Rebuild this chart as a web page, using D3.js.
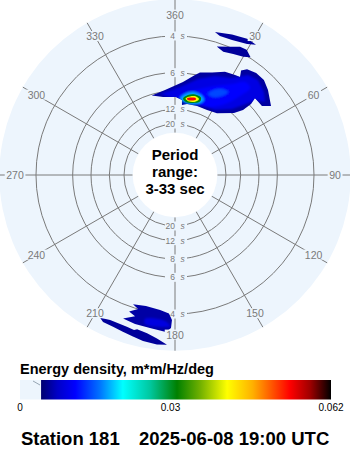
<!DOCTYPE html>
<html><head><meta charset="utf-8">
<script src="https://cdn.jsdelivr.net/npm/d3@7"></script>
<style>body{margin:0;background:#fff}svg{display:block}</style>
</head><body>
<svg id="c" width="350" height="450"></svg>
<script>
// ---------- data ----------
const periodRange = [3, 33];                 // seconds (outer edge, inner edge)
const periodRings = [4, 6, 8, 12, 20];       // labelled period rings (s)
const periodRingLabels = ["4", "6", "8", "12", "20"];
const directions = [0, 30, 60, 90, 120, 150, 180, 210, 240, 270, 300, 330];
const directionLabels = ["360", "30", "60", "90", "120", "150", "180", "210", "240", "270", "300", "330"];
const centerLines = ["Period", "range:", "3-33 sec"];
const cbTitle = "Energy density, m*m/Hz/deg";
const cbDomain = [0, 0.062];
const cbTicks = [0, 0.03, 0.062];
const cbTickLabels = ["0", "0.03", "0.062"];
const cbStopValues = [0.0042, 0.0075, 0.011, 0.0158, 0.0205, 0.0259, 0.0313, 0.0359, 0.0413, 0.0464, 0.0538, 0.0578, 0.062];
const cbStopColors = ["#000070", "#0000c8", "#0000ff", "#0070ff", "#00ffff", "#00c8a0", "#008000", "#70b000", "#ffff00", "#ffb000", "#ff0000", "#a00000", "#000000"];
const stationTitle = "Station 181";
const dateTitle = "2025-06-08 19:00 UTC";

// energy contours: [direction (deg), period (s)]
const mainOuter = [[343.7,8.18],[353.3,7.78],[4.9,6.84],[11.3,6.03],[13.7,5.75],[19.9,5.5],[25.8,5.13],[31.0,5.02],[33.6,4.97],
  [32.3,4.65],[34.3,4.45],[38.5,4.34],[43.1,4.35],[47.6,4.54],[54.3,4.93],[51.6,5.37],[46.1,5.37],[47.0,5.87],[46.3,6.76],
  [43.6,7.78],[34.2,9.65],[26.2,10.1],[17.7,10.1],[9.6,10.2],[5.7,10.65],[5.3,9.5],[0.7,8.98],[351.3,8.82]];
const mainLevel2 = [[349.5,8.24],[3.3,7.44],[13.5,6.31],[22.0,5.66],[30.4,5.27],[36.1,4.64],[41.1,4.53],[47.0,4.75],[50.9,5.06],
  [47.2,5.41],[45.0,6.16],[40.8,7.56],[31.6,9.3],[18.0,9.65],[5.3,9.5],[353.5,8.71]];
const mainLevel3 = [[2.2,8.78],[13.2,7.55],[24.2,6.41],[32.1,5.61],[37.0,5.03],[40.8,5.12],[39.4,6.0],[35.2,7.61],[27.2,9.26],[15.7,9.82],[5.4,9.71]];
const mainLevel4 = [[22.2,7.52],[24.6,6.82],[28.7,6.38],[32.6,6.33],[30.8,7.0],[26.0,7.61]];
const peakHalo = [[3.8,9.33],[7.0,8.36],[12.2,7.87],[18.0,7.99],[21.1,8.56],[18.0,9.65],[10.4,10.18]];
const peakGreen = [[6.0,9.18],[9.2,8.46],[14.0,8.16],[18.5,8.35],[18.8,9.05],[14.0,9.73],[8.6,9.82]];
const peakYellow = [[7.8,9.13],[10.8,8.64],[15.0,8.41],[17.5,8.68],[15.9,9.28],[10.8,9.61]];
const peakRed = [[8.9,9.09],[11.7,8.78],[14.9,8.68],[15.5,8.91],[12.9,9.28],[9.8,9.34]];
const swellA = [[15.6,3.68],[22.1,3.59],[28.2,3.51],[31.9,3.54],[28.8,3.65],[22.9,3.745],[17.9,3.76]];
const swellB = [[18.0,4.15],[23.2,3.98],[26.9,3.83],[29.8,3.82],[32.7,3.97],[30.0,4.09],[25.7,4.18],[21.4,4.26]];
const southC = [[198.0,4.12],[192.5,4.18],[186.3,4.12],[182.5,4.01],[181.2,3.79],[181.5,3.55],[183.3,3.43],[189.3,3.49],
  [195.0,3.51],[199.9,3.56],[195.8,3.74],[198.6,3.83],[195.4,4.0]];
const southCInner = [[191.8,3.73],[183.9,3.75],[181.9,3.6],[185.6,3.56],[191.4,3.58]];
const southD = [[207.7,3.33],[204.1,3.39],[197.6,3.38],[194.8,3.35],[193.8,3.39],[190.0,3.34],[186.3,3.25],[182.7,3.12],
  [186.1,3.11],[190.9,3.14],[194.6,3.19],[198.4,3.23],[202.2,3.26],[206.1,3.27]];

const outerContours = [
  {pts: mainOuter, value: 0.0060}, {pts: swellA, value: 0.0058}, {pts: swellB, value: 0.0058},
  {pts: southC, value: 0.0062}, {pts: southD, value: 0.0058}];
const softContours = [
  {pts: mainLevel2, value: 0.0092, smooth: false}, {pts: southCInner, value: 0.0090, smooth: true},
  {pts: mainLevel3, value: 0.0112, smooth: true}, {pts: mainLevel4, value: 0.0140, smooth: true},
  {pts: peakHalo, value: 0.0175, smooth: true}];
const peakContours = [
  {pts: peakGreen, value: 0.031}, {pts: peakYellow, value: 0.041}, {pts: peakRed, value: 0.054}];

// ---------- drawing ----------
const svg = d3.select("#c");
const cx = 175, cy = 175;
const diskColor = "#edf5fd", gridColor = "#7a7a7a";
const font = "Liberation Sans, Arial, sans-serif";
const freqScale = d3.scaleLinear().domain([1 / periodRange[1], 1 / periodRange[0]]).range([42.3, 175.7]);
const rOf = p => freqScale(1 / p);
const angScale = d3.scaleLinear().domain([0, 360]).range([0, 2 * Math.PI]);
const color = d3.scaleLinear().domain(cbStopValues).range(cbStopColors).clamp(true);

const defs = svg.append("defs");
defs.append("filter").attr("id", "blur").attr("x", "-20%").attr("y", "-20%").attr("width", "140%").attr("height", "140%")
  .append("feGaussianBlur").attr("stdDeviation", 1.3);
defs.append("filter").attr("id", "blurS").attr("x", "-30%").attr("y", "-30%").attr("width", "160%").attr("height", "160%")
  .append("feGaussianBlur").attr("stdDeviation", 0.6);

const g = svg.append("g").attr("transform", `translate(${cx},${cy})`);
const rMax = freqScale.range()[1], rMin = freqScale.range()[0];
g.append("circle").attr("r", rMax).attr("fill", diskColor);

// rings
g.selectAll("circle.ring").data(periodRings).join("circle").attr("class", "ring")
  .attr("r", d => rOf(d)).attr("fill", "none").attr("stroke", gridColor).attr("stroke-width", 1);
// radial lines
g.selectAll("line.spoke").data(directions).join("line").attr("class", "spoke")
  .attr("x1", d => rMin * Math.sin(angScale(d))).attr("y1", d => -rMin * Math.cos(angScale(d)))
  .attr("x2", d => rMax * Math.sin(angScale(d))).attr("y2", d => -rMax * Math.cos(angScale(d)))
  .attr("stroke", gridColor).attr("stroke-width", 1);

// ring labels (top and bottom)
const ringLab = [];
periodRings.forEach((p, i) => { ringLab.push({p, t: periodRingLabels[i], s: -1}); ringLab.push({p, t: periodRingLabels[i], s: 1}); });
const rl = g.selectAll("g.rl").data(ringLab).join("g").attr("class", "rl")
  .attr("transform", d => `translate(0,${d.s * rOf(d.p)})`);
rl.append("rect").attr("x", -10).attr("y", -4.5).attr("width", 22).attr("height", 9).attr("fill", diskColor);
rl.append("text").attr("x", 0).attr("y", 3).attr("text-anchor", "end")
  .attr("font-family", font).attr("font-size", 8.5).attr("fill", gridColor).text(d => d.t);
rl.append("text").attr("x", 5.5).attr("y", 3).attr("font-style", "italic")
  .attr("font-family", font).attr("font-size", 8.5).attr("fill", gridColor).text("s");

// spectrum
const lineLin = d3.lineRadial().angle(d => angScale(d[0])).radius(d => rOf(d[1])).curve(d3.curveLinearClosed);
const lineSmooth = d3.lineRadial().angle(d => angScale(d[0])).radius(d => rOf(d[1])).curve(d3.curveCatmullRomClosed.alpha(0.5));
const clip = defs.append("clipPath").attr("id", "outerClip");
clip.selectAll("path").data(outerContours).join("path").attr("transform", `translate(${cx},${cy})`).attr("d", d => lineLin(d.pts));
g.selectAll("path.outer").data(outerContours).join("path").attr("class", "outer")
  .attr("d", d => lineLin(d.pts)).attr("fill", d => color(d.value));
const clipped = svg.append("g").attr("clip-path", "url(#outerClip)");
clipped.append("g").attr("filter", "url(#blur)").attr("transform", `translate(${cx},${cy})`)
  .selectAll("path").data(softContours).join("path")
  .attr("d", d => (d.smooth ? lineSmooth : lineLin)(d.pts)).attr("fill", d => color(d.value));
clipped.append("g").attr("filter", "url(#blurS)").attr("transform", `translate(${cx},${cy})`)
  .selectAll("path").data(peakContours).join("path")
  .attr("d", d => lineSmooth(d.pts)).attr("fill", d => color(d.value));

// direction labels
const dl = svg.append("g").attr("transform", `translate(${cx},${cy})`);
const dlg = dl.selectAll("g").data(directions).join("g")
  .attr("transform", d => `translate(${160 * Math.sin(angScale(d))},${-160 * Math.cos(angScale(d))})`);
dlg.append("rect").attr("fill", diskColor);
dlg.append("text").attr("text-anchor", "middle").attr("y", 3.6)
  .attr("font-family", font).attr("font-size", 10.5).attr("fill", gridColor)
  .text((d, i) => directionLabels[i]);
dlg.each(function () {
  const t = d3.select(this).select("text").node().getBBox();
  d3.select(this).select("rect").attr("x", t.x - 1.5).attr("y", t.y + 1).attr("width", t.width + 3).attr("height", t.height - 2);
});

// centre hole and text
g.append("circle").attr("r", rMin).attr("fill", "#fff");
svg.append("g").selectAll("text").data(centerLines).join("text")
  .attr("x", cx).attr("y", (d, i) => 160 + i * 17).attr("text-anchor", "middle")
  .attr("font-family", font).attr("font-weight", "bold").attr("font-size", 15)
  .attr("fill", "#000").text(d => d);

// colour bar
const cbX = d3.scaleLinear().domain(cbDomain).range([20, 331]);
const grad = defs.append("linearGradient").attr("id", "cbGrad").attr("x1", 0).attr("x2", 1).attr("y1", 0).attr("y2", 0);
const gx0 = cbX(cbStopValues[0]), gx1 = cbX(cbDomain[1]);
grad.selectAll("stop").data(cbStopValues).join("stop")
  .attr("offset", d => (cbX(d) - gx0) / (gx1 - gx0)).attr("stop-color", (d, i) => cbStopColors[i]);
svg.append("text").attr("x", 20).attr("y", 374).attr("font-family", font)
  .attr("font-weight", "bold").attr("font-size", 14.5).attr("fill", "#000").text(cbTitle);
svg.append("rect").attr("x", cbX(0)).attr("y", 380).attr("width", gx0 - cbX(0)).attr("height", 19.5).attr("fill", diskColor);
svg.append("line").attr("x1", 33).attr("y1", 381).attr("x2", 40).attr("y2", 385).attr("stroke", "#8090a0").attr("stroke-width", 0.8);
svg.append("rect").attr("x", gx0).attr("y", 380).attr("width", gx1 - gx0).attr("height", 19.5).attr("fill", "url(#cbGrad)");
svg.selectAll("text.cbt").data(cbTicks).join("text").attr("class", "cbt")
  .attr("x", d => cbX(d)).attr("y", 411).attr("text-anchor", "middle")
  .attr("font-family", font).attr("font-size", 10).attr("fill", "#000")
  .text((d, i) => cbTickLabels[i]);

// title
svg.append("text").attr("x", 21).attr("y", 445).attr("font-family", font)
  .attr("font-weight", "bold").attr("font-size", 18.5).attr("fill", "#000").text(stationTitle);
svg.append("text").attr("x", 139).attr("y", 445).attr("font-family", font)
  .attr("font-weight", "bold").attr("font-size", 18.5).attr("fill", "#000").text(dateTitle);
</script>
</body></html>
